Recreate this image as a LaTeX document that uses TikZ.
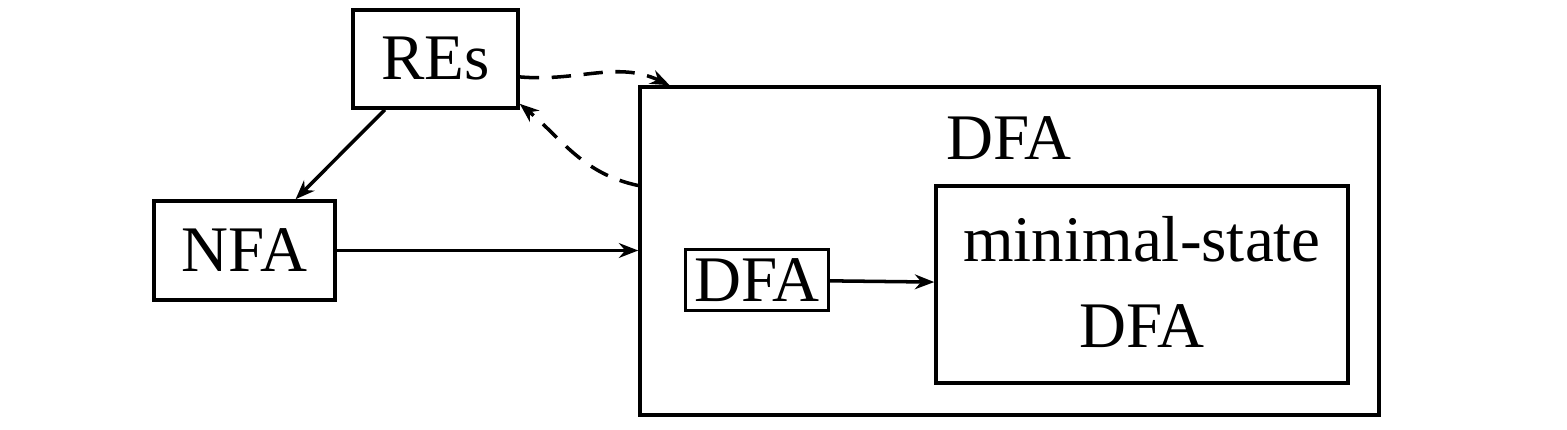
\documentclass[tikz,border=0pt]{standalone}
\usepackage{fontspec}
\setmainfont{Liberation Serif}
\usetikzlibrary{
  positioning,
  arrows.meta
}

\begin{document}
\begin{tikzpicture}[
  box/.style={draw, line width=1pt, inner sep=2.5pt},
  conn/.style={line width=1pt, -{Stealth[length=5.5pt,width=4.2pt,inset=1.8pt]}},
  back/.style={conn, dash pattern=on 5.5pt off 3.6pt},
  font=\fontsize{18.5}{24.5}\selectfont,
]
  \useasboundingbox (0,0) rectangle (15.67,4.30);
  \node[box, minimum width=1.65cm, minimum height=0.98cm] (res) at (4.355, 3.71) {REs};
  \node[box, minimum width=1.81cm, minimum height=0.99cm] (nfa) at (2.445, 1.795) {NFA};
  \node[box, minimum width=7.39cm, minimum height=3.28cm] (dfa) at (10.095, 1.79) {};
  \node (dfalabel) at (10.09, 2.92) {DFA};
  \node[box, minimum height=0.6cm] (small) at (7.57, 1.50) {DFA};
  \node[box, minimum width=4.12cm, minimum height=1.97cm] (minimal) at (11.42, 1.455) {};
  \node[align=center] (minlabel) at (11.42, 1.48) {minimal-state\\DFA};

  \draw[conn] (res) -- (nfa);
  \draw[conn] (nfa) -- (nfa -| dfa.west);
  \draw[conn] (small) -- (minimal);
  \draw[back] (res.-12) to[out=-5, in=155] (dfa.154);
  \draw[back] (dfa.170) to[out=168, in=-40] (res.-28);
\end{tikzpicture}
\end{document}
